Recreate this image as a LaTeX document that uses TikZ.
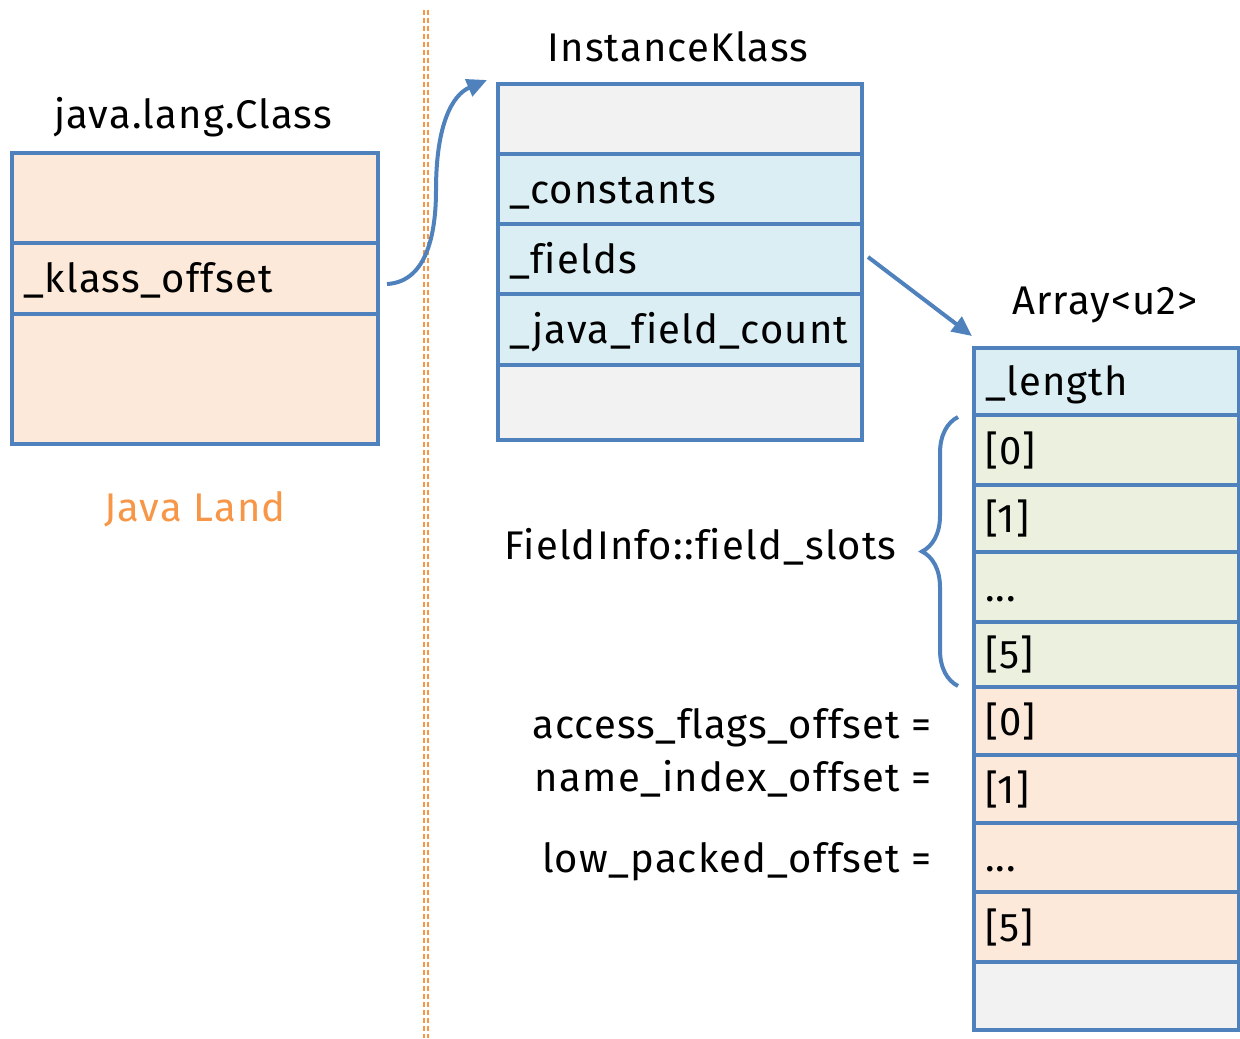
\documentclass[tikz,border=0pt]{standalone}
\usepackage{fontspec}
\setmainfont{Fira Sans}[Ligatures=NoCommon, LetterSpace=3]
\usetikzlibrary{arrows.meta,decorations.pathreplacing}

\definecolor{edge}{HTML}{4F81BD}
\definecolor{peach}{HTML}{FDE9D9}
\definecolor{paleblue}{HTML}{DBEEF4}
\definecolor{palegreen}{HTML}{EBF1DE}
\definecolor{palegrey}{HTML}{F2F2F2}
\definecolor{land}{HTML}{F79646}

\tikzset{
  txt/.style={font=\fontsize{20}{22}\selectfont, inner sep=0pt},
  cell/.style={txt, draw=edge, line width=2pt, anchor=north west,
    inner xsep=5.5pt, inner ysep=0pt, align=left,
    text height=18pt, text depth=4pt},
  link/.style={draw=edge, line width=2pt,
    -{Triangle[length=10pt,width=9pt]}},
  divider/.style={draw=land, line width=0.9pt, dash pattern=on 2.5pt off 1.5pt},
}

% \cellbox{name}{x1}{y1}{x2}{y2}{fill}{text}
\newcommand\cellbox[7]{%
  \pgfmathsetmacro\cbw{(#4-#2)/2-11}%
  \pgfmathsetmacro\cbh{(#5-#3)/2}%
  \node[cell, fill=#6, text width=\cbw pt, minimum height=\cbh pt] (#1) at (#2,#3) {#7};%
}

\begin{document}
\begin{tikzpicture}[x=0.5pt,y=-0.5pt]
\useasboundingbox (0,0) rectangle (1240,1038);

% separator between the two worlds
\coordinate (divtop) at (426,10);
\coordinate (divbot) at (426,1038);
\path[divider] ([xshift=-1pt]divtop) -- ([xshift=-1pt]divbot);
\path[divider] ([xshift=1pt]divtop) -- ([xshift=1pt]divbot);

% java.lang.Class mirror
\node[txt] (jlc) at (193,117) {java.lang.Class};
\cellbox{jlc1}{10}{151}{376}{241}{peach}{}
\cellbox{kofs}{10}{241}{376}{312}{peach}{\_klass\_offset}
\cellbox{jlc3}{10}{312}{376}{442}{peach}{}
\node[txt, text=land] (land) at (195,509) {Java Land};

% InstanceKlass
\node[txt] (ik) at (678,47) {InstanceKlass};
\cellbox{ikhead}{496}{82}{860}{152}{palegrey}{}
\cellbox{cons}{496}{152}{860}{222}{paleblue}{\_constants}
\cellbox{flds}{496}{222}{860}{292}{paleblue}{\_fields}
\cellbox{jfc}{496}{292}{860}{363}{paleblue}{\_java\_field\_count}
\cellbox{iktail}{496}{363}{860}{438}{palegrey}{}

% Array<u2>
\node[txt] (arr) at (1105,305) {Array<u2>};
\cellbox{len}{972}{346}{1237}{413}{paleblue}{\_length}
\cellbox{s0}{972}{413}{1237}{483}{palegreen}{[0]}
\cellbox{s1}{972}{483}{1237}{550}{palegreen}{[1]}
\cellbox{s2}{972}{550}{1237}{620}{palegreen}{...}
\cellbox{s5}{972}{620}{1237}{685}{palegreen}{[5]}
\cellbox{p0}{972}{685}{1237}{753}{peach}{[0]}
\cellbox{p1}{972}{753}{1237}{821}{peach}{[1]}
\cellbox{p2}{972}{821}{1237}{890}{peach}{...}
\cellbox{p5}{972}{890}{1237}{960}{peach}{[5]}
\cellbox{atail}{972}{960}{1237}{1028}{palegrey}{}

% field slot group
\draw[draw=edge, line width=2pt, decorate,
      decoration={brace, amplitude=18pt, aspect=0.5}]
  ([xshift=-7pt,yshift=1.5pt]s5.south west) -- ([xshift=-7pt,yshift=-2pt]s0.north west);
\node[txt, anchor=east] (fslots) at (897,547) {FieldInfo::field\_slots};

% offsets into the trailing slots
\node[txt, anchor=east] (afo) at (932,728) {access\_flags\_offset =};
\node[txt, anchor=east] (nio) at (932,779) {name\_index\_offset =};
\node[txt, anchor=east] (lpo) at (932,862) {low\_packed\_offset =};

% pointers
\coordinate (bend) at (436,190);
\draw[link] ([xshift=3.5pt,yshift=-2.75pt]kofs.east)
  .. controls (424,282) and (436,240) .. (bend)
  .. controls (436,125) and (452,95) .. ([xshift=-4.5pt,yshift=1pt]ikhead.north west);
\draw[link] ([xshift=2pt,yshift=1pt]flds.east) -- ([yshift=5pt]len.north west);

\end{tikzpicture}
\end{document}
